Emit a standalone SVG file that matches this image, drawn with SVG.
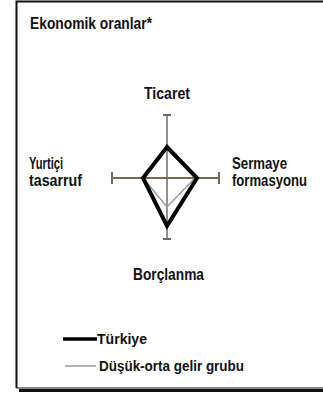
<svg xmlns="http://www.w3.org/2000/svg" width="323" height="394" viewBox="0 0 323 394">
<style>
.t{font-family:"Liberation Sans Narrow","Liberation Sans",Arial,sans-serif;font-weight:bold;fill:#111;}
.axis{stroke:#7a6753;stroke-width:2;fill:none;}
.vaxis{stroke:#222;stroke-width:1;fill:none;}
.tick{stroke:#6e665e;stroke-width:2;fill:none;}
</style>
<rect x="0" y="0" width="323" height="394" fill="#fff"/>
<g id="frame">
<path d="M19 390.5 H323" stroke="#111" stroke-width="3"/>
<path d="M16.5 388 V1.5 H323" stroke="#111" stroke-width="2" fill="none"/>
<path d="M16.5 388 H323" stroke="#111" stroke-width="1"/>
</g>
<g id="title"><text class="t" x="30" y="29" font-size="16" textLength="122" lengthAdjust="spacingAndGlyphs">Ekonomik oranlar*</text></g>
<g id="axes">
<line class="vaxis" x1="167" y1="115" x2="167" y2="239"/>
<line class="axis" x1="112" y1="178" x2="219" y2="178"/>
<line class="tick" x1="163" y1="115" x2="171" y2="115"/>
<line class="tick" x1="163" y1="239" x2="171" y2="239"/>
<line class="axis" x1="112" y1="172" x2="112" y2="184"/>
<line class="axis" x1="219" y1="172" x2="219" y2="184"/>
</g>
<g id="series">
<polygon points="167,147 195,178 167,207 143,178" fill="none" stroke="#999" stroke-width="1.5" stroke-linejoin="miter"/>
<polygon points="167,147 197,178 167,226 143,178" fill="none" stroke="#000" stroke-width="4" stroke-linejoin="miter"/>
</g>
<g id="ticaret"><text class="t" x="167" y="99" font-size="16" text-anchor="middle" textLength="46" lengthAdjust="spacingAndGlyphs">Ticaret</text></g>
<g id="yurtici">
<text class="t" x="29" y="169" font-size="16" textLength="34" lengthAdjust="spacingAndGlyphs">Yurtiçi</text>
<text class="t" x="29" y="186" font-size="16" textLength="53" lengthAdjust="spacingAndGlyphs">tasarruf</text>
</g>
<g id="sermaye">
<text class="t" x="232" y="169" font-size="16" textLength="55" lengthAdjust="spacingAndGlyphs">Sermaye</text>
<text class="t" x="232" y="186" font-size="16" textLength="75" lengthAdjust="spacingAndGlyphs">formasyonu</text>
</g>
<g id="borclanma"><text class="t" x="133" y="280" font-size="16" textLength="71" lengthAdjust="spacingAndGlyphs">Borçlanma</text></g>
<g id="legend">
<line x1="63" y1="339" x2="97" y2="339" stroke="#000" stroke-width="3.5"/>
<text class="t" x="97" y="344" font-size="15" textLength="50" lengthAdjust="spacingAndGlyphs">Türkiye</text>
<line x1="65" y1="366" x2="96" y2="366" stroke="#999" stroke-width="1.5"/>
<text class="t" x="99" y="371" font-size="15" textLength="145" lengthAdjust="spacingAndGlyphs">Düşük-orta gelir grubu</text>
</g>
</svg>
